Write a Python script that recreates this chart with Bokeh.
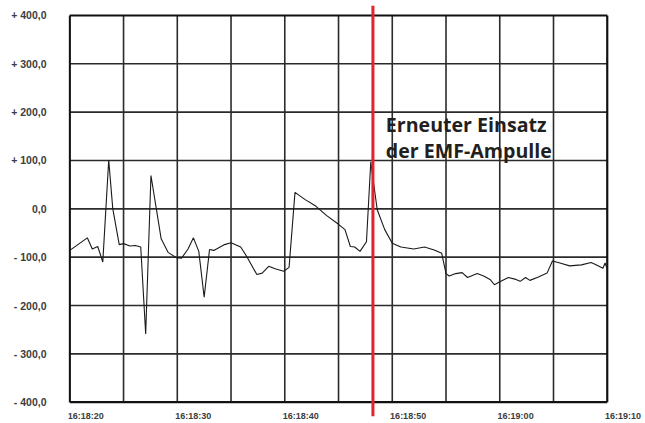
from bokeh.plotting import figure
from bokeh.models import FixedTicker, Range1d
from bokeh.core.properties import value
from bokeh.embed import file_html
from bokeh.resources import INLINE

# seconds after 16:18:20
t = [0, 1.63, 2.09, 2.6, 3.07, 3.62, 4.0, 4.6, 5.0, 5.6, 6.1, 6.6, 7.06, 7.55, 8.5, 9.14, 9.9,
     10.4, 11.0, 11.5, 12.0, 12.5, 13.0, 13.4, 14.4, 15.0, 15.9, 16.5, 17.4, 17.9, 18.5, 19.1,
     19.9, 20.4, 20.95, 21.9, 22.8, 23.9, 25.0, 25.6, 26.1, 26.5, 27.0, 27.6, 28.0, 28.6, 29.3,
     30.0, 30.8, 32.0, 33.0, 33.9, 34.6, 35.0, 35.3, 35.9, 36.5, 37.0, 37.9, 38.5, 39.1, 39.5,
     40.1, 40.8, 41.5, 41.9, 42.4, 42.8, 43.6, 44.4, 44.9, 45.6, 46.5, 47.6, 48.5, 49.0, 49.6,
     49.8, 50.0]
v = [-86, -60, -83, -78, -110, 101, 0, -74, -72, -77, -76, -79, -259, 69, -62, -90, -101,
     -102, -83, -60, -88, -183, -84, -86, -74, -70, -79, -100, -136, -133, -119, -124,
     -129, -121, 34, 19, 7, -14, -32, -43, -78, -79, -88, -68, 97, -2, -43,
     -71, -79, -83, -79, -85, -92, -134, -139, -134, -132, -142, -134, -139, -146, -157,
     -150, -142, -146, -150, -142, -148, -141, -133, -108, -112, -118, -116, -111, -116, -123,
     -112, -124]

x_ticks = [0, 10, 20, 30, 40, 50]
x_labels = ["16:18:20", "16:18:30", "16:18:40", "16:18:50", "16:19:00", "16:19:10"]
x_grid = [5, 10, 15, 20, 25, 30, 35, 40, 45]
y_ticks = [-400, -300, -200, -100, 0, 100, 200, 300, 400]
y_labels = ["- 400,0", "- 300,0", "- 200,0", "- 100,0", "0,0", "+ 100,0", "+ 200,0", "+ 300,0", "+ 400,0"]
y_grid = [-300, -200, -100, 0, 100, 200, 300]
x_min, x_max = 0, 50
y_min, y_max = -400, 400

event_t = 28.2
event_top, event_bottom = 420, -429
note_lines = ["Erneuter Einsatz", "der EMF-Ampulle"]
note_x = 29.4
note_y = [175, 121]
x_label_y = -429
x_label_shift = -0.2

p = figure(width=642, height=423, output_backend="svg", toolbar_location=None,
           x_range=Range1d(-0.121, 53.28), y_range=Range1d(-444.1, 431.0),
           x_axis_location=None,
           min_border_left=68, min_border_right=0, min_border_top=0, min_border_bottom=0)

p.outline_line_color = None
p.xgrid.visible = False
p.ygrid.visible = False

p.yaxis.ticker = FixedTicker(ticks=y_ticks)
p.yaxis.major_label_overrides = {k: s for k, s in zip(y_ticks, y_labels)}
p.yaxis.axis_line_color = None
p.yaxis.major_tick_line_color = None
p.yaxis.minor_tick_line_color = None
p.yaxis.major_tick_out = 0
p.yaxis.major_tick_in = 0
p.yaxis.major_label_text_font = "Liberation Sans"
p.yaxis.major_label_text_font_style = "bold"
p.yaxis.major_label_text_color = "#3c3c3c"
p.yaxis.major_label_text_font_size = "10.5px"
p.yaxis.major_label_standoff = 22

grid_color = "#2b2b2b"
# inner grid
p.segment(x0=x_grid, y0=[y_min] * len(x_grid), x1=x_grid, y1=[y_max] * len(x_grid),
          line_color=grid_color, line_width=1.6)
p.segment(x0=[x_min] * len(y_grid), y0=y_grid, x1=[x_max] * len(y_grid), y1=y_grid,
          line_color=grid_color, line_width=1.6)
# frame border
p.segment(x0=[x_min, x_max, x_min, x_min], y0=[y_min, y_min, y_min, y_max],
          x1=[x_min, x_max, x_max, x_max], y1=[y_max, y_max, y_min, y_max],
          line_color="#111111", line_width=2.2)

# x tick labels
p.text(x=[xt + x_label_shift for xt in x_ticks], y=[x_label_y] * len(x_ticks), text=x_labels,
       text_align="left", text_baseline="middle", text_font=value("Liberation Sans"),
       text_font_style="bold", text_font_size="9px", text_color="#3c3c3c")

p.line(t, v, line_color="#1a1a1a", line_width=1.1)

p.segment(x0=[event_t], y0=[event_bottom], x1=[event_t], y1=[event_top],
          line_color="#e3242b", line_width=3)

p.text(x=[note_x] * len(note_lines), y=note_y, text=note_lines, text_align="left",
       text_baseline="alphabetic", text_font=value("Open Sans"), text_font_style="bold",
       text_font_size="19.6px", text_color="#231f20")

open("out.html", "w").write(file_html(p, INLINE))
